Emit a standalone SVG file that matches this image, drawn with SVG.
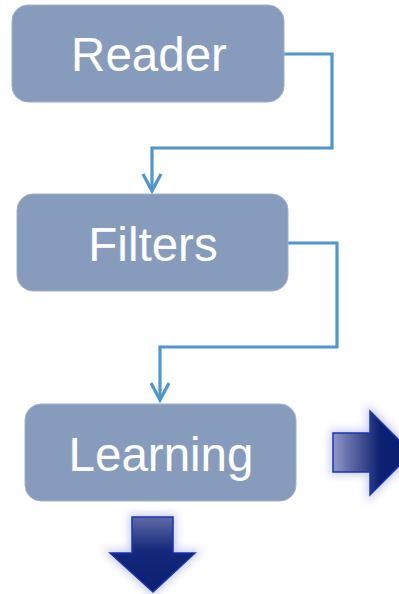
<svg xmlns="http://www.w3.org/2000/svg" width="399" height="594" viewBox="0 0 399 594">
  <style>
    .box { fill: #879cbd; stroke: #9fb0cc; stroke-width: 1; }
    .label { font-family: "Liberation Sans", Arial, sans-serif; font-size: 47.5px; fill: #ffffff; text-anchor: middle; }
    .link { fill: none; stroke: #4f96cd; stroke-width: 3.2; stroke-linejoin: miter; }
    .head { fill: none; stroke: #4f96cd; stroke-width: 3.2; stroke-linecap: butt; stroke-linejoin: miter; }
    .bigarrow { stroke: #1a34b8; stroke-width: 1.5; stroke-linejoin: miter; }
    .halo { fill: #c8cbea; stroke: #c8cbea; stroke-width: 6; filter: url(#soft); }
  </style>
  <defs>
    <linearGradient id="gradRight" x1="0" y1="0" x2="1" y2="0">
      <stop offset="0" stop-color="#9196c8"/>
      <stop offset="0.45" stop-color="#2f3e85"/>
      <stop offset="0.6" stop-color="#0b2070"/>
      <stop offset="1" stop-color="#0b2070"/>
    </linearGradient>
    <linearGradient id="gradDown" x1="0" y1="0" x2="0" y2="1">
      <stop offset="0" stop-color="#5f6aa6"/>
      <stop offset="0.45" stop-color="#13287a"/>
      <stop offset="1" stop-color="#0b2070"/>
    </linearGradient>
    <filter id="soft" x="-30%" y="-30%" width="160%" height="160%">
      <feGaussianBlur stdDeviation="4"/>
    </filter>
  </defs>

  <rect width="399" height="594" fill="#ffffff"/>

  <!-- connectors -->
  <g id="connectors">
    <polyline class="link" points="284,54 332,54 332,148 152,148 152,191"/>
    <polyline class="head" points="143,174 152,191 161,174"/>
    <polyline class="link" points="288,243 337,243 337,347 160,347 160,400"/>
    <polyline class="head" points="151,383 160,400 169,383"/>
  </g>

  <g id="reader">
    <rect class="box" x="12" y="5" width="272" height="97" rx="16"/>
    <text class="label" x="149" y="71">Reader</text>
  </g>

  <g id="filters">
    <rect class="box" x="17" y="194" width="271" height="97" rx="16"/>
    <text class="label" x="153" y="261">Filters</text>
  </g>

  <g id="learning">
    <rect class="box" x="25" y="404" width="271" height="97" rx="16"/>
    <text class="label" x="161" y="471">Learning</text>
  </g>

  <!-- output arrow to the right -->
  <g id="arrow-right">
    <polygon class="halo" points="333,433 370,433 370,411 412,453 370,495 370,472 333,472"/>
    <polygon class="bigarrow" fill="url(#gradRight)" points="333,433 370,433 370,411 412,453 370,495 370,472 333,472"/>
  </g>

  <!-- output arrow downward -->
  <g id="arrow-down">
    <polygon class="halo" points="132,517 173,517 173,553 195,553 153,592 110,553 132,553"/>
    <polygon class="bigarrow" fill="url(#gradDown)" points="132,517 173,517 173,553 195,553 153,592 110,553 132,553"/>
  </g>
</svg>
